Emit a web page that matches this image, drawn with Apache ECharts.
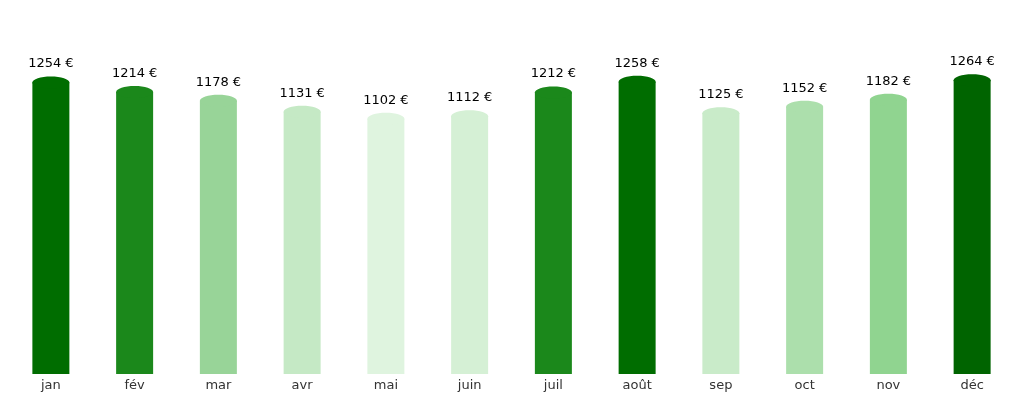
<!DOCTYPE html>
<html><head><meta charset="utf-8">
<script src="https://cdn.jsdelivr.net/npm/echarts@6/dist/echarts.min.js"></script>
<style>html,body{margin:0;padding:0;background:#fff}#c{width:1024px;height:403px}</style>
</head><body><div id="c"></div>
<script>
const months = ['jan','fév','mar','avr','mai','juin','juil','août','sep','oct','nov','déc'];
const values = [1254,1214,1178,1131,1102,1112,1212,1258,1125,1152,1182,1264];
const colors = ['#006d00','#1b881b','#98d498','#c5e9c5','#dff4df','#d5f0d5','#1b881b','#006d00','#c9ebc9','#acdfac','#90d490','#006400'];
const chart = echarts.init(document.getElementById('c'));
const BW = 37, CAP = 6;
chart.setOption({
  animation:false,
  grid:{left:9,right:10,top:42,bottom:29},
  xAxis:{type:'category',data:months,axisLine:{show:false},axisTick:{show:false},
    axisLabel:{color:'#333',fontSize:13,fontFamily:'DejaVu Sans',margin:5}},
  yAxis:{type:'value',min:0,max:1400,show:false,splitLine:{show:false}},
  series:[{
    type:'custom',
    data:values.map((v,i)=>[i,v]),
    renderItem:function(params,api){
      const i=api.value(0), v=api.value(1);
      const top=api.coord([i,v]), base=api.coord([i,0]);
      const x=top[0]-BW/2, c=colors[i];
      return {type:'group',children:[
        {type:'rect',shape:{x:x,y:top[1]+CAP,width:BW,height:base[1]-top[1]-CAP},style:{fill:c}},
        {type:'ellipse',shape:{cx:top[0],cy:top[1]+CAP,rx:BW/2,ry:CAP},style:{fill:c}},
        {type:'text',style:{text:v+' €',x:top[0],y:top[1]-6,align:'center',verticalAlign:'bottom',
          fill:'#000',font:'13px "DejaVu Sans"'}}
      ]};
    }
  }]
});
</script></body></html>
